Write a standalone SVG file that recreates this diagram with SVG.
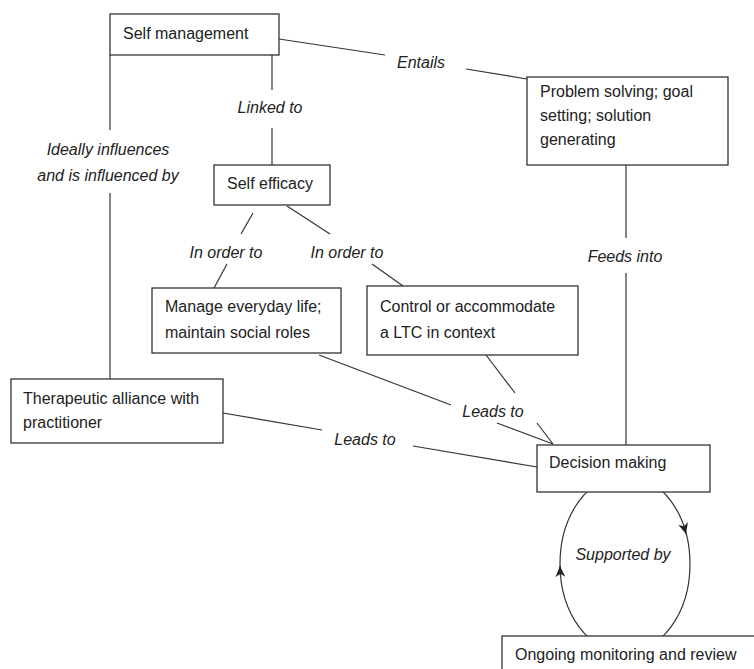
<svg xmlns="http://www.w3.org/2000/svg" width="754" height="669" viewBox="0 0 754 669">
  <style>
    .box { fill: #ffffff; stroke: #333333; stroke-width: 1.3; }
    .lbl { font-family: "Liberation Sans", Arial, sans-serif; font-size: 16px; fill: #222222; }
    .edge { font-family: "Liberation Sans", Arial, sans-serif; font-size: 16px; font-style: italic; fill: #222222; text-anchor: middle; }
    .conn line, .conn ellipse, .conn path { stroke: #333333; stroke-width: 1.2; fill: none; }
  </style>
  <defs>
    <marker id="arrow" viewBox="0 0 10 10" refX="10" refY="5" markerWidth="11" markerHeight="11" markerUnits="userSpaceOnUse" orient="auto">
      <path d="M0,0.5 L10,5 L0,9.5 L3,5 Z" fill="#222222" stroke="none"/>
    </marker>
  </defs>

  <rect width="754" height="669" fill="#ffffff"/>

  <!-- connectors -->
  <g id="connectors" class="conn">
    <line x1="279" y1="39" x2="385" y2="55"/>
    <line x1="466" y1="69" x2="527" y2="79"/>
    <line x1="272" y1="55" x2="272" y2="90"/>
    <line x1="272" y1="128" x2="272" y2="165"/>
    <line x1="110" y1="55" x2="110" y2="130"/>
    <line x1="110" y1="193" x2="110" y2="379"/>
    <line x1="253" y1="213" x2="241" y2="234"/>
    <line x1="227" y1="264" x2="214" y2="288"/>
    <line x1="287" y1="206" x2="330" y2="234"/>
    <line x1="372" y1="264" x2="403" y2="286"/>
    <line x1="626" y1="165" x2="626" y2="238"/>
    <line x1="626" y1="273" x2="626" y2="445"/>
    <line x1="319" y1="355" x2="451" y2="405"/>
    <line x1="486" y1="355" x2="515" y2="393"/>
    <line x1="497" y1="423" x2="553" y2="444"/>
    <line x1="537" y1="423" x2="553" y2="444"/>
    <line x1="223" y1="413" x2="322" y2="430"/>
    <line x1="413" y1="446" x2="537" y2="467"/>
    <ellipse cx="625" cy="564" rx="65" ry="89"/>
    <path d="M683.4,524.4 L686,534" marker-end="url(#arrow)"/>
    <path d="M560.3,576 L560,566" marker-end="url(#arrow)"/>
  </g>

  <!-- edge labels -->
  <g id="edge-labels">
    <text class="edge" x="421" y="68">Entails</text>
    <text class="edge" x="270" y="113">Linked to</text>
    <text class="edge" x="108" y="155">Ideally influences</text>
    <text class="edge" x="108" y="181">and is influenced by</text>
    <text class="edge" x="226" y="258">In order to</text>
    <text class="edge" x="347" y="258">In order to</text>
    <text class="edge" x="625" y="262">Feeds into</text>
    <text class="edge" x="493" y="417">Leads to</text>
    <text class="edge" x="365" y="445">Leads to</text>
    <text class="edge" x="623" y="560">Supported by</text>
  </g>

  <!-- nodes -->
  <g id="self-management">
    <rect class="box" x="110" y="14" width="169" height="41"/>
    <text class="lbl" x="123" y="39">Self management</text>
  </g>
  <g id="problem-solving">
    <rect class="box" x="527" y="77" width="201" height="88"/>
    <text class="lbl" x="540" y="97">Problem solving; goal</text>
    <text class="lbl" x="540" y="121">setting; solution</text>
    <text class="lbl" x="540" y="145">generating</text>
  </g>
  <g id="self-efficacy">
    <rect class="box" x="214" y="165" width="116" height="40"/>
    <text class="lbl" x="227" y="189">Self efficacy</text>
  </g>
  <g id="manage-everyday-life">
    <rect class="box" x="152" y="288" width="189" height="65"/>
    <text class="lbl" x="165" y="312">Manage everyday life;</text>
    <text class="lbl" x="165" y="338">maintain social roles</text>
  </g>
  <g id="control-ltc">
    <rect class="box" x="367" y="286" width="211" height="69"/>
    <text class="lbl" x="380" y="312">Control or accommodate</text>
    <text class="lbl" x="380" y="338">a LTC in context</text>
  </g>
  <g id="therapeutic-alliance">
    <rect class="box" x="11" y="379" width="212" height="64"/>
    <text class="lbl" x="23" y="404">Therapeutic alliance with</text>
    <text class="lbl" x="23" y="428">practitioner</text>
  </g>
  <g id="decision-making">
    <rect class="box" x="537" y="445" width="173" height="47"/>
    <text class="lbl" x="549" y="468">Decision making</text>
  </g>
  <g id="ongoing-monitoring">
    <rect class="box" x="502" y="636" width="270" height="50"/>
    <text class="lbl" x="515" y="660">Ongoing monitoring and review</text>
  </g>
</svg>
